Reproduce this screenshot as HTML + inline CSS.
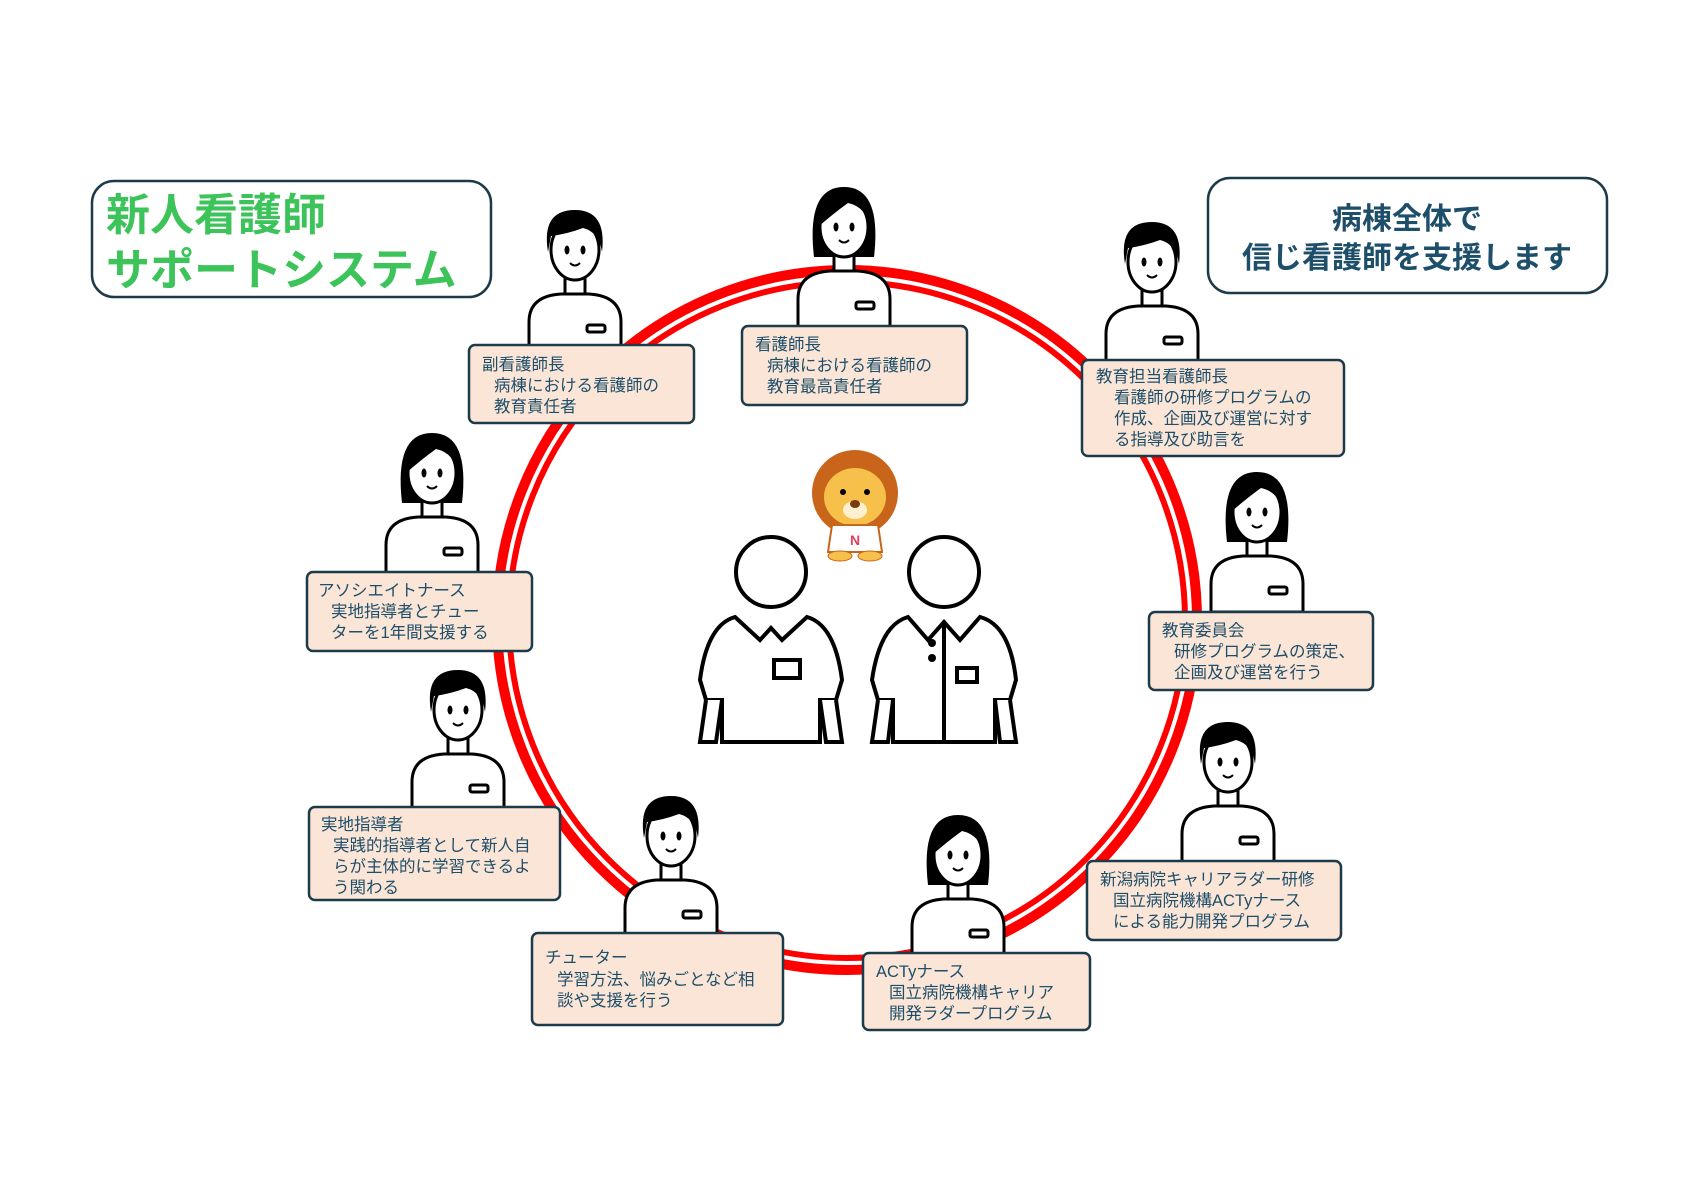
<!DOCTYPE html>
<html><head><meta charset="utf-8"><style>
html,body{margin:0;padding:0;background:#fff;}
svg text{font-family:"Liberation Sans","Noto Sans CJK JP",sans-serif;}
</style></head><body>
<svg width="1683" height="1190" viewBox="0 0 1683 1190" xmlns="http://www.w3.org/2000/svg">
<defs>
<g id="body">
  <rect x="-10" y="26" width="20" height="18" fill="#fff" stroke="#000" stroke-width="3"/>
  <path d="M-46,100 L-46,72 Q-46,46 -14,44 L14,44 Q46,46 46,72 L46,100 Z" fill="#fff" stroke="#000" stroke-width="3"/>
  <rect x="12" y="75" width="18" height="7" rx="2" fill="#fff" stroke="#000" stroke-width="3"/>
  <ellipse cx="0" cy="0" rx="24" ry="30" fill="#fff" stroke="#000" stroke-width="3"/>
  <ellipse cx="-8" cy="0" rx="2.5" ry="4.5" fill="#000"/>
  <ellipse cx="8" cy="0" rx="2.5" ry="4.5" fill="#000"/>
  <path d="M-5,13 Q0,18 5,13" fill="none" stroke="#000" stroke-width="2"/>
</g>
<g id="man">
  <use href="#body"/>
  <path d="M-27,2 Q-34,-40 0,-40 Q32,-40 27,2 Q24,-18 8,-22 Q-8,-16 -24,-14 Z" fill="#000"/>
</g>
<g id="woman">
  <path d="M-30,30 Q-38,-40 0,-40 Q38,-40 30,30 Z" fill="#000"/>
  <use href="#body"/>
  <path d="M-26,0 Q-30,-38 0,-38 Q30,-38 26,0 Q22,-20 4,-24 Q-10,-14 -26,0 Z" fill="#000"/>
</g>
</defs>

<!-- title boxes -->
<rect x="92" y="181" width="399" height="116" rx="22" fill="#fff" stroke="#1d3a4a" stroke-width="2.5"/>
<text x="106" y="230" font-size="44" font-weight="bold" fill="#3cc35a">新人看護師</text>
<text x="106" y="285" font-size="44" font-weight="bold" fill="#3cc35a">サポートシステム</text>
<rect x="1208" y="178" width="399" height="115" rx="22" fill="#fff" stroke="#1d3a4a" stroke-width="2.5"/>
<text x="1407" y="229" font-size="30" font-weight="bold" fill="#1d4e6a" text-anchor="middle">病棟全体で</text>
<text x="1407" y="268" font-size="30" font-weight="bold" fill="#1d4e6a" text-anchor="middle">信じ看護師を支援します</text>

<!-- ring -->
<circle cx="847" cy="620" r="345" fill="none" stroke="#f00" stroke-width="20"/>
<circle cx="847" cy="620" r="343" fill="none" stroke="#fff" stroke-width="4"/>

<!-- center people -->
<g fill="#fff" stroke="#000" stroke-width="4">
  <circle cx="771" cy="572" r="35"/>
  <path d="M735,617 L760,640 L771,628 L782,640 L807,617 Q835,625 842,680 L836,700 L820,700 L820,742 L722,742 L722,700 L706,700 L700,680 Q707,625 735,617 Z"/>
  <path d="M706,700 L700,742 L716,742 L722,700 M836,700 L842,742 L826,742 L820,700"/>
  <rect x="774" y="660" width="26" height="18"/>
  <circle cx="944" cy="572" r="35"/>
  <path d="M908,617 L928,640 L944,622 L960,640 L980,617 Q1010,625 1016,680 L1010,700 L995,700 L995,742 L893,742 L893,700 L878,700 L872,680 Q880,625 908,617 Z"/>
  <path d="M878,700 L872,742 L888,742 L893,700 M1010,700 L1016,742 L1000,742 L995,700 M944,622 L944,742"/>
  <rect x="957" y="668" width="20" height="14"/>
</g>
<circle cx="932" cy="643" r="4" fill="#000"/><circle cx="932" cy="658" r="4" fill="#000"/>

<!-- lion -->
<g>
  <circle cx="855" cy="493" r="43" fill="#c8651b"/>
  <ellipse cx="855" cy="497" rx="31" ry="29" fill="#f6c04a"/>
  <ellipse cx="855" cy="510" rx="12" ry="9" fill="#fff1d0"/>
  <ellipse cx="855" cy="504" rx="5" ry="4" fill="#7a3b10"/>
  <circle cx="843" cy="492" r="3" fill="#000"/><circle cx="867" cy="492" r="3" fill="#000"/>
  <path d="M832,525 L878,525 L882,552 L828,552 Z" fill="#fff" stroke="#c8651b" stroke-width="2"/>
  <text x="855" y="545" font-size="14" font-weight="bold" fill="#e0405a" text-anchor="middle">N</text>
  <ellipse cx="840" cy="556" rx="12" ry="5" fill="#f6c04a" stroke="#c8651b"/>
  <ellipse cx="870" cy="556" rx="12" ry="5" fill="#f6c04a" stroke="#c8651b"/>
</g>

<!-- people -->
<use href="#man" x="575" y="250"/>
<use href="#woman" x="844" y="227"/>
<use href="#man" x="1152" y="262"/>
<use href="#woman" x="432" y="473"/>
<use href="#woman" x="1257" y="512"/>
<use href="#man" x="458" y="710"/>
<use href="#man" x="1228" y="762"/>
<use href="#man" x="671" y="836"/>
<use href="#woman" x="958" y="855"/>

<!-- boxes -->
<g fill="#fbe5d6" stroke="#1d3a4a" stroke-width="2.5">
<rect x="469" y="345" width="225" height="78" rx="6"/>
<rect x="742" y="326" width="225" height="79" rx="6"/>
<rect x="1082" y="360" width="262" height="96" rx="6"/>
<rect x="307" y="572" width="225" height="79" rx="6"/>
<rect x="1149" y="612" width="224" height="78" rx="6"/>
<rect x="309" y="807" width="251" height="93" rx="6"/>
<rect x="1087" y="861" width="254" height="79" rx="6"/>
<rect x="532" y="933" width="251" height="92" rx="6"/>
<rect x="863" y="953" width="227" height="77" rx="6"/>
</g>
<g font-size="16.5" fill="#1d4e6a">
<text x="482" y="370">副看護師長</text><text x="494" y="391">病棟における看護師の</text><text x="494" y="412">教育責任者</text>
<text x="755" y="350">看護師長</text><text x="767" y="371">病棟における看護師の</text><text x="767" y="392">教育最高責任者</text>
<text x="1096" y="382">教育担当看護師長</text><text x="1114" y="403">看護師の研修プログラムの</text><text x="1114" y="424">作成、企画及び運営に対す</text><text x="1114" y="445">る指導及び助言を</text>
<text x="318" y="596">アソシエイトナース</text><text x="331" y="617">実地指導者とチュー</text><text x="331" y="638">ターを1年間支援する</text>
<text x="1162" y="636">教育委員会</text><text x="1174" y="657">研修プログラムの策定、</text><text x="1174" y="678">企画及び運営を行う</text>
<text x="321" y="830">実地指導者</text><text x="333" y="851">実践的指導者として新人自</text><text x="333" y="872">らが主体的に学習できるよ</text><text x="333" y="893">う関わる</text>
<text x="1100" y="885">新潟病院キャリアラダー研修</text><text x="1113" y="906">国立病院機構ACTyナース</text><text x="1113" y="927">による能力開発プログラム</text>
<text x="545" y="963">チューター</text><text x="557" y="985">学習方法、悩みごとなど相</text><text x="557" y="1006">談や支援を行う</text>
<text x="876" y="977">ACTyナース</text><text x="889" y="998">国立病院機構キャリア</text><text x="889" y="1019">開発ラダープログラム</text>
</g>
</svg>
</body></html>
